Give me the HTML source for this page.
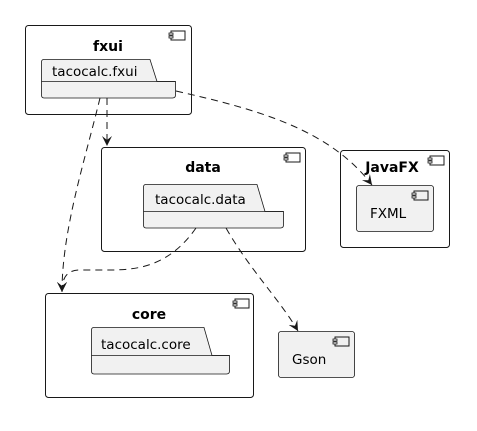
<!DOCTYPE html>
<html><head><style>body{margin:0;background:#fff}text{font-family:"DejaVu Sans","Liberation Sans",sans-serif}</style></head><body>
<svg width="477" height="426" viewBox="0 0 477 426" xmlns="http://www.w3.org/2000/svg">
<defs>
<marker id="a" markerWidth="12" markerHeight="12" refX="10" refY="5" orient="auto" markerUnits="userSpaceOnUse"><path d="M0,0 L10,5 L0,10 L4,5 Z" fill="#181818"/></marker>
<g id="ic"><rect x="2" y="0" width="14" height="9" fill="none" stroke="#181818" stroke-width="1"/><rect x="0" y="2" width="4" height="2" fill="#fff" stroke="#181818" stroke-width="0.8"/><rect x="0" y="5" width="4" height="2" fill="#fff" stroke="#181818" stroke-width="0.8"/></g>
</defs>
<g stroke="#181818" stroke-width="1" fill="none">
<rect x="25.5" y="25.5" width="166" height="89" rx="3"/>
<rect x="101.5" y="147.5" width="204" height="104" rx="3"/>
<rect x="340.5" y="150.5" width="109" height="97" rx="3"/>
<rect x="45.5" y="293.5" width="208" height="104" rx="3"/>
</g>
<use href="#ic" x="169" y="31"/><use href="#ic" x="284" y="153"/><use href="#ic" x="428" y="156"/><use href="#ic" x="233" y="299"/>
<g stroke="#181818" stroke-width="0.8" fill="#f1f1f1">
<path d="M44,59.5 L150,59.5 L157,81.5 L175.5,81.5 L175.5,95 Q175.5,98 172.5,98 L44,98 Q41.5,98 41.5,95 L41.5,62 Q41.5,59.5 44,59.5 Z"/>
<line x1="41.5" y1="81.5" x2="175.5" y2="81.5"/>
<path d="M146,184.5 L257,184.5 L265,211.5 L283.5,211.5 L283.5,225 Q283.5,228 280.5,228 L146,228 Q143.5,228 143.5,225 L143.5,187 Q143.5,184.5 146,184.5 Z"/>
<line x1="143.5" y1="211.5" x2="283.5" y2="211.5"/>
<path d="M94,327.5 L204,327.5 L212,355.5 L229.5,355.5 L229.5,371 Q229.5,374 226.5,374 L94,374 Q91.5,374 91.5,371 L91.5,330 Q91.5,327.5 94,327.5 Z"/>
<line x1="91.5" y1="355.5" x2="229.5" y2="355.5"/>
<rect x="356.5" y="185.5" width="77" height="46" rx="2.5"/>
<rect x="278.5" y="331.5" width="76" height="46" rx="2.5"/>
</g>
<use href="#ic" x="412" y="191"/><use href="#ic" x="333" y="337"/>
<g font-size="14" fill="#000">
<text x="108" y="51" text-anchor="middle" font-weight="bold">fxui</text>
<text x="203" y="172" text-anchor="middle" font-weight="bold">data</text>
<text x="392" y="172" text-anchor="middle" font-weight="bold">JavaFX</text>
<text x="149" y="319" text-anchor="middle" font-weight="bold">core</text>
<text x="52" y="76" font-size="13.5">tacocalc.fxui</text>
<text x="155" y="204" font-size="13.5">tacocalc.data</text>
<text x="101" y="349" font-size="13.5">tacocalc.core</text>
<text x="370" y="218" font-size="13.5">FXML</text>
<text x="292" y="364" font-size="13.5">Gson</text>
</g>
<g stroke="#181818" stroke-width="1" fill="none" stroke-dasharray="7,5" marker-end="url(#a)">
<path d="M100,98 C85,160 62,230 62,292"/>
<path d="M107,98 L107,146"/>
<path d="M176,91 C260,110 330,130 372,185"/>
<path d="M196,228 C170,265 140,270 110,270 L80,270 C65,270 62,280 62,292"/>
<path d="M226,228 C250,270 280,300 298,331"/>
</g>
</svg>
</body></html>
